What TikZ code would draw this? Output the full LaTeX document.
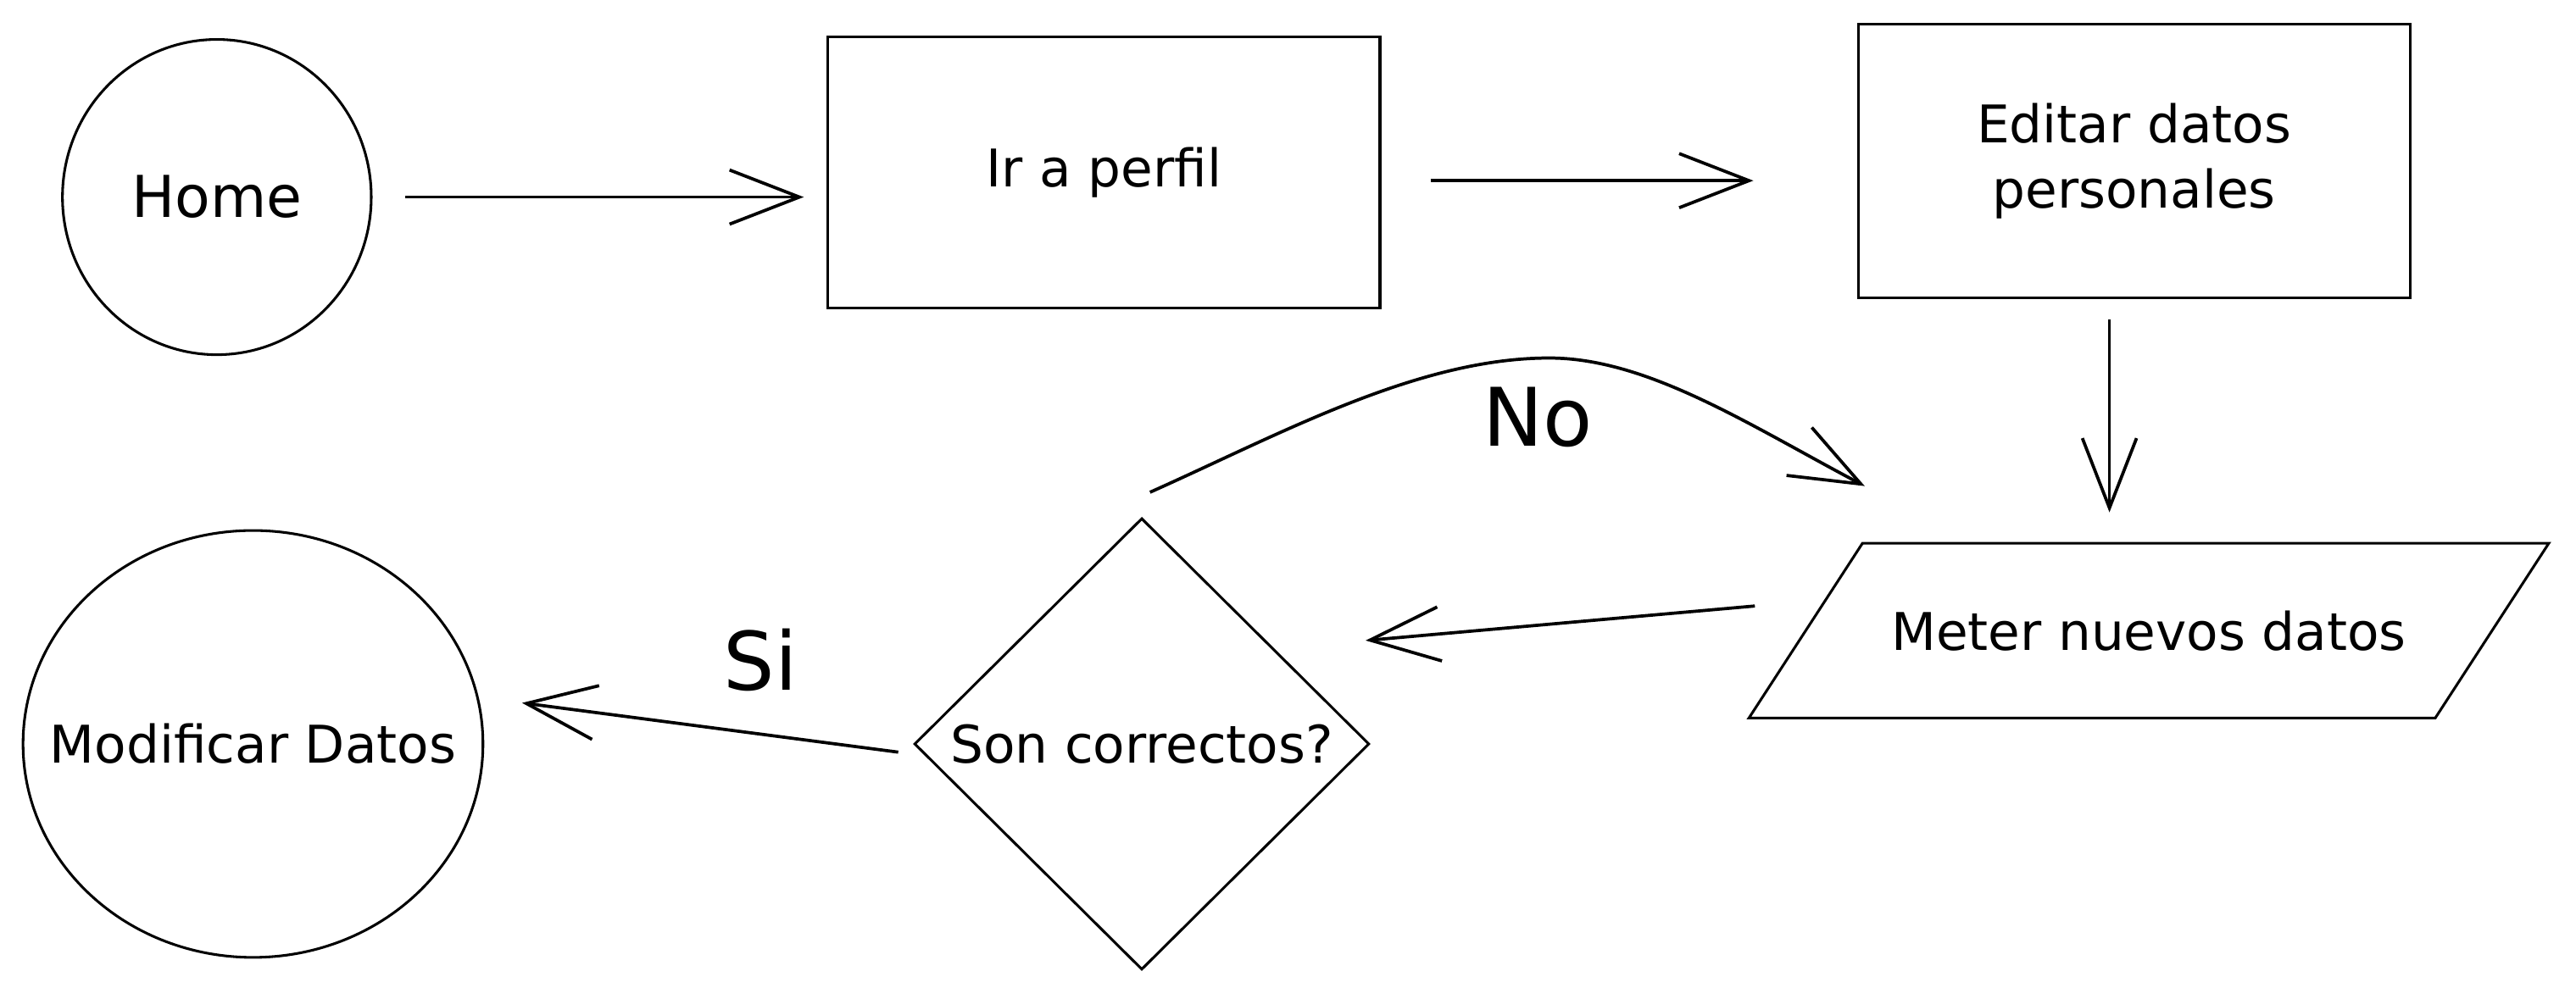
\documentclass[tikz,border=0pt]{standalone}
\usepackage{fontspec}
\setmainfont{DejaVu Sans}
\usetikzlibrary{arrows.meta,shapes.geometric}

\begin{document}
\begin{tikzpicture}[
    x=0.02cm, y=-0.02cm,
    >={Straight Barb[length=8.5mm,width=6.6mm]},
    terminal/.style={ellipse, draw=black, line width=0.9pt, align=center, font=\fontsize{18}{22}\selectfont, inner sep=0pt},
    block/.style={rectangle, draw=black, line width=0.9pt, minimum width=6.72cm, minimum height=3.3cm, align=center, font=\fontsize{18}{22.8}\selectfont},
    inout/.style={trapezium, trapezium left angle=57, trapezium right angle=123, trapezium stretches body=true, draw=black, line width=0.9pt, inner ysep=0.82cm, minimum width=9.74cm, font=\fontsize{18}{22}\selectfont},
    decision/.style={diamond, draw=black, line width=0.9pt, minimum width=5.54cm, minimum height=5.5cm, inner sep=0pt, font=\fontsize{18}{22}\selectfont},
    arrow/.style={->, line width=1.1pt, draw=black},
    lbl/.style={font=\fontsize{28}{32}\selectfont}
]
\useasboundingbox (0,0) rectangle (1568,608);

% Top row
\node[terminal, minimum width=3.76cm, minimum height=3.84cm, font=\fontsize{20}{24}\selectfont] (home) at (132,120) {Home};
\node[block] (perfil) at (672,105) {Ir a perfil};
\node[block, minimum height=3.34cm] (editar) at (1299,98) {Editar datos\\personales};

% Bottom row
\node[inout] (meter) at (1308,384) {Meter nuevos datos};
\node[decision] (son) at (695,453) {Son correctos?};
\node[terminal, minimum width=5.6cm, minimum height=5.2cm] (modif) at (154,453) {};
\node[font=\fontsize{18}{22}\selectfont] (modiftxt) at (modif) {Modificar Datos};

% Branch labels
\node[lbl] (no) at (936,254) {No};
\node[lbl] (si) at (463,402) {Si};
\coordinate (nopeak) at (943,218);

% === Arrows ===
\draw[arrow, shorten <=0.4cm, shorten >=0.28cm] (home.east) -- (home.east -| perfil.west);
\draw[arrow, shorten <=0.6cm, shorten >=1.26cm] ([yshift=-0.1cm]perfil.east) -- ([yshift=-0.1cm]perfil.east -| editar.west);
\draw[arrow, shorten <=0.24cm, shorten >=0.36cm] ([xshift=-0.3cm]editar.south) -- ([xshift=-0.3cm]editar.south |- meter.north);
\draw[arrow] ([xshift=-0.6cm,yshift=0.3cm]meter.west) -- ([xshift=-0.06cm,yshift=1.26cm]son.east);

% decision branches
\draw[arrow] ([xshift=-0.18cm,yshift=-0.1cm]son.west) -- ([xshift=0.46cm,yshift=0.5cm]modif.east);
\draw[arrow] ([xshift=0.1cm,yshift=0.3cm]son.north) .. controls (780,264) and (863,218) .. (nopeak)
    .. controls (1003,218) and (1065,259) .. ([xshift=-3.46cm,yshift=0.68cm]meter.north);

\end{tikzpicture}
\end{document}
